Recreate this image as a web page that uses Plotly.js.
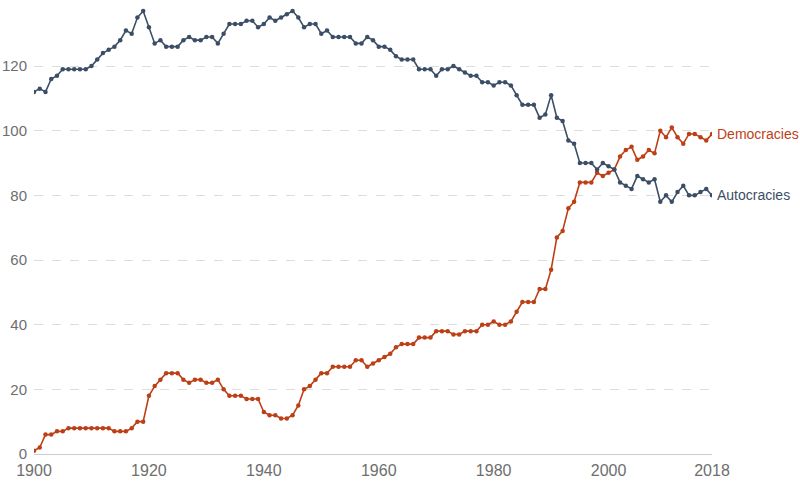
<!DOCTYPE html>
<html>
<head>
<meta charset="utf-8">
<script src="https://cdn.plot.ly/plotly-3.0.1.min.js"></script>
<style>
  html, body { margin: 0; padding: 0; background: #fff; }
  #chart { width: 800px; height: 481px; }
</style>
</head>
<body>
<div id="chart"></div>
<script>
const years = [
  1900,1901,1902,1903,1904,1905,1906,1907,1908,1909,
  1910,1911,1912,1913,1914,1915,1916,1917,1918,1919,
  1920,1921,1922,1923,1924,1925,1926,1927,1928,1929,
  1930,1931,1932,1933,1934,1935,1936,1937,1938,1939,
  1940,1941,1942,1943,1944,1945,1946,1947,1948,1949,
  1950,1951,1952,1953,1954,1955,1956,1957,1958,1959,
  1960,1961,1962,1963,1964,1965,1966,1967,1968,1969,
  1970,1971,1972,1973,1974,1975,1976,1977,1978,1979,
  1980,1981,1982,1983,1984,1985,1986,1987,1988,1989,
  1990,1991,1992,1993,1994,1995,1996,1997,1998,1999,
  2000,2001,2002,2003,2004,2005,2006,2007,2008,2009,
  2010,2011,2012,2013,2014,2015,2016,2017,2018
];

const democracies = [
  1,2,6,6,7,7,8,8,8,8,
  8,8,8,8,7,7,7,8,10,10,
  18,21,23,25,25,25,23,22,23,23,
  22,22,23,20,18,18,18,17,17,17,
  13,12,12,11,11,12,15,20,21,23,
  25,25,27,27,27,27,29,29,27,28,
  29,30,31,33,34,34,34,36,36,36,
  38,38,38,37,37,38,38,38,40,40,
  41,40,40,41,44,47,47,47,51,51,
  57,67,69,76,78,84,84,84,87,86,
  87,88,92,94,95,91,92,94,93,100,
  98,101,98,96,99,99,98,97,99
];

const autocracies = [
  112,113,112,116,117,119,119,119,119,119,
  120,122,124,125,126,128,131,130,135,137,
  132,127,128,126,126,126,128,129,128,128,
  129,129,127,130,133,133,133,134,134,132,
  133,135,134,135,136,137,135,132,133,133,
  130,131,129,129,129,129,127,127,129,128,
  126,126,125,123,122,122,122,119,119,119,
  117,119,119,120,119,118,117,117,115,115,
  114,115,115,114,111,108,108,108,104,105,
  111,104,103,97,96,90,90,90,88,90,
  89,88,84,83,82,86,85,84,85,78,
  80,78,81,83,80,80,81,82,80
];

const xTickVals = [1900, 1920, 1940, 1960, 1980, 2000, 2018];
const xTickText = ["1900", "1920", "1940", "1960", "1980", "2000", "2018"];
const yTickVals = [0, 20, 40, 60, 80, 100, 120];

const demColor = "#BD3F16";
const autColor = "#3C4E66";
const fontFamily = "'Liberation Sans', Arial, Helvetica, sans-serif";

const traces = [
  {
    x: years, y: democracies, name: "Democracies",
    type: "scatter", mode: "lines+markers",
    line: { color: demColor, width: 1.6 },
    marker: { color: demColor, size: 4.5 },
    hoverinfo: "x+y"
  },
  {
    x: years, y: autocracies, name: "Autocracies",
    type: "scatter", mode: "lines+markers",
    line: { color: autColor, width: 1.6 },
    marker: { color: autColor, size: 4.5 },
    hoverinfo: "x+y"
  }
];

const lastIdx = years.length - 1;

const layout = {
  width: 800, height: 481,
  margin: { l: 34, r: 88, t: 8, b: 27, pad: 0 },
  paper_bgcolor: "#fff", plot_bgcolor: "#fff",
  showlegend: false,
  font: { family: fontFamily, size: 15, color: "#6e6e6e" },
  xaxis: {
    range: [1900, 2018],
    tickvals: xTickVals, ticktext: xTickText,
    showgrid: false, zeroline: false,
    showline: true, linecolor: "#ccc", linewidth: 1,
    ticks: "", tickfont: { size: 16, color: "#6e6e6e" },
    ticklabelstandoff: 2,
    fixedrange: true
  },
  yaxis: {
    range: [0, 137.95],
    tickvals: yTickVals,
    showgrid: true, gridcolor: "#ddd", gridwidth: 1, griddash: "dash",
    zeroline: false, showline: false, ticks: "",
    tickfont: { size: 15, color: "#6e6e6e" },
    ticklabelstandoff: 6,
    fixedrange: true
  },
  annotations: [
    {
      x: years[lastIdx], y: democracies[lastIdx], xref: "x", yref: "y",
      text: "Democracies", showarrow: false, xanchor: "left", yanchor: "middle",
      xshift: 3, font: { family: fontFamily, size: 14, color: demColor }
    },
    {
      x: years[lastIdx], y: autocracies[lastIdx], xref: "x", yref: "y",
      text: "Autocracies", showarrow: false, xanchor: "left", yanchor: "middle",
      xshift: 3, font: { family: fontFamily, size: 14, color: autColor }
    }
  ]
};

Plotly.newPlot("chart", traces, layout, { displayModeBar: false, staticPlot: true });
</script>
</body>
</html>
